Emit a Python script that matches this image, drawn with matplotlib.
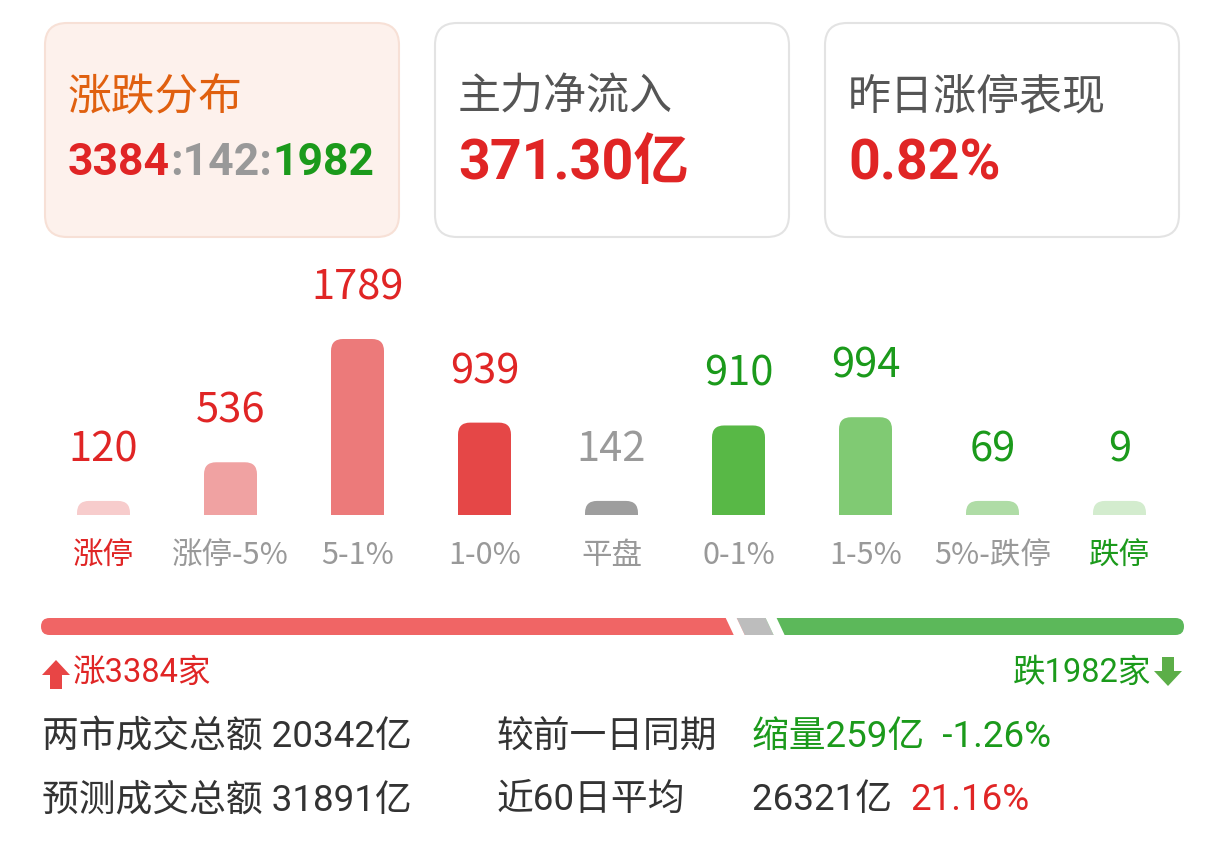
import matplotlib
matplotlib.use("Agg")
import matplotlib.pyplot as plt
from matplotlib.patches import FancyBboxPatch, Polygon

W, H = 1224, 848

# data
categories = ["涨停", "涨停-5%", "5-1%", "1-0%", "平盘", "0-1%", "1-5%", "5%-跌停", "跌停"]
counts = [120, 536, 1789, 939, 142, 910, 994, 69, 9]
bar_colors = ["#f7cccc", "#f0a2a2", "#ec7a7a", "#e54747", "#9e9e9e",
              "#58b846", "#80ca73", "#afdca6", "#d3ecce"]
num_colors = ["#e02525"] * 4 + ["#9a9a9a"] + ["#1b9a1b"] * 4
cat_colors = ["#e02525"] + ["#999999"] * 7 + ["#1b9a1b"]
n_up, n_flat, n_down = 3384, 142, 1982
net_inflow = "371.30亿"
limit_up_perf = "0.82%"
turnover = 20342
forecast = 31891
prev_diff = 259
prev_pct = -1.26
avg60 = 26321
avg60_pct = 21.16

RED = "#e02525"
GREEN = "#1b9a1b"
GRAY = "#999999"
DARK = "#333333"
CJK = ["Noto Sans CJK SC", "DejaVu Sans"]
NUM = ["Roboto", "Noto Sans CJK SC"]
LABEL = ["Noto Sans CJK SC", "DejaVu Sans"]

fig = plt.figure(figsize=(W / 100, H / 100), dpi=100)
fig.patch.set_facecolor("white")

# background axes in pixel coords
bg = fig.add_axes([0, 0, 1, 1])
bg.set_xlim(0, W)
bg.set_ylim(H, 0)
bg.axis("off")


def chain(ax, x, y, parts, **kw):
    t = ax.text(x, y, parts[0][0], color=parts[0][1], va="center", ha="left", **kw)
    for s, c in parts[1:]:
        t = ax.annotate(s, xy=(1, 0.5), xycoords=t, va="center", ha="left", color=c, **kw)
    return t


# cards
cards = [(45, "#fdf1ec", "#f7e0d6"), (435, "white", "#e3e3e3"), (825, "white", "#e3e3e3")]
for x0, fc, ec in cards:
    bg.add_patch(FancyBboxPatch((x0, 23), 354, 214, boxstyle="round,pad=0,rounding_size=22",
                                fc=fc, ec=ec, lw=1.5))

bg.text(68, 97, "涨跌分布", color="#e0600f", fontsize=31.5, family=CJK, va="center")
chain(bg, 68, 163, [(str(n_up), RED), (":%d:" % n_flat, GRAY), (str(n_down), GREEN)],
      fontsize=32, fontweight="bold", family=NUM)
bg.text(458, 97, "主力净流入", color="#555555", fontsize=31, family=CJK, va="center")
bg.text(458, 164, net_inflow, color=RED, fontsize=40, fontweight="bold", family=NUM, va="center")
bg.text(848, 97, "昨日涨停表现", color="#555555", fontsize=31, family=CJK, va="center")
bg.text(848, 164, limit_up_perf, color=RED, fontsize=40, fontweight="bold", family=NUM, va="center")

# bar chart
ax = fig.add_axes([40 / W, (H - 515) / H, 1143 / W, 255 / H])
ymax = max(counts) * 255 / 176
ax.set_xlim(-0.5, len(counts) - 0.5)
ax.set_ylim(0, ymax)
ax.axis("off")
px_x = 1143 / len(counts)
px_y = 255 / ymax
bw = 53 / px_x
rx = 12 / px_x
ry = 12 / px_y
shown = [max(v, max(counts) * 0.08) for v in counts]
bars = ax.bar(range(len(counts)), shown, width=bw)
for i, b in enumerate(bars):
    b.remove()
    h = b.get_height()
    ax.add_patch(FancyBboxPatch((b.get_x(), -ry), b.get_width(), h + ry,
                                boxstyle="round,pad=0,rounding_size=%f" % rx,
                                mutation_aspect=ry / rx, fc=bar_colors[i], ec="none"))
    ax.annotate(str(counts[i]), (i, h), xytext=(0, 51 * 0.72), textcoords="offset points",
                ha="center", va="center", color=num_colors[i], fontsize=30, family=LABEL)
    ax.annotate(categories[i], (i, 0), xytext=(0, -41 * 0.72), textcoords="offset points",
                ha="center", va="center", color=cat_colors[i], fontsize=22, family=LABEL,
                annotation_clip=False)

# progress bar
axp = fig.add_axes([41 / W, (H - 635) / H, 1143 / W, 17 / H])
total = n_up + n_flat + n_down
G = 11 * total / (1143 - 22)
span = total + 2 * G
axp.set_xlim(0, span)
axp.set_ylim(0, 1)
axp.axis("off")
ux = span / 1143
s = 8 * ux
prx = 8.5 * ux
c1 = n_up + G / 2
c2 = n_up + G + n_flat + G / 2
mid = (c1 + c2) / 2
axp.add_patch(FancyBboxPatch((0, 0), mid, 1, boxstyle="round,pad=0,rounding_size=%f" % prx,
                             mutation_aspect=0.5 / prx, fc="#f06565", ec="none"))
axp.add_patch(FancyBboxPatch((mid, 0), span - mid, 1, boxstyle="round,pad=0,rounding_size=%f" % prx,
                             mutation_aspect=0.5 / prx, fc="#5cb85a", ec="none"))
axp.add_patch(Polygon([(c1 + G / 2 + s / 2, 0), (c2 - G / 2 + s / 2, 0),
                       (c2 - G / 2 - s / 2, 1), (c1 + G / 2 - s / 2, 1)], fc="#bdbdbd", ec="none"))
for c in (c1, c2):
    axp.add_patch(Polygon([(c - G / 2 + s / 2, 0), (c + G / 2 + s / 2, 0),
                           (c + G / 2 - s / 2, 1), (c - G / 2 - s / 2, 1)], fc="white", ec="none"))

# up / down counts with arrows
bg.add_patch(Polygon([(42, 675), (56, 660), (70, 675), (62, 675), (62, 689), (50, 689), (50, 675)],
                     fc="#e84545", ec="none"))
bg.text(73, 673, "涨%d家" % n_up, color=RED, fontsize=23.5, family=NUM, va="center")
bg.add_patch(Polygon([(1154, 671), (1168, 686), (1182, 671), (1174, 671), (1174, 657), (1162, 657), (1162, 671)],
                     fc="#5cae48", ec="none"))
bg.text(1151, 673, "跌%d家" % n_down, color=GREEN, fontsize=23.5, family=NUM, va="center", ha="right")

# turnover rows
FS = 26.5
bg.text(42, 737, "两市成交总额 %d亿" % turnover, color=DARK, fontsize=FS, family=NUM, va="center")
bg.text(42, 800, "预测成交总额 %d亿" % forecast, color=DARK, fontsize=FS, family=NUM, va="center")
bg.text(497, 737, "较前一日同期", color=DARK, fontsize=FS, family=NUM, va="center")
bg.text(497, 800, "近60日平均", color=DARK, fontsize=FS, family=NUM, va="center")
bg.text(752, 737, "缩量%d亿  %.2f%%" % (prev_diff, prev_pct), color=GREEN, fontsize=FS,
        family=NUM, va="center")
chain(bg, 752, 800, [("%d亿  " % avg60, DARK), ("%.2f%%" % avg60_pct, RED)], fontsize=FS, family=NUM)

fig.savefig("out.png", dpi=100)
